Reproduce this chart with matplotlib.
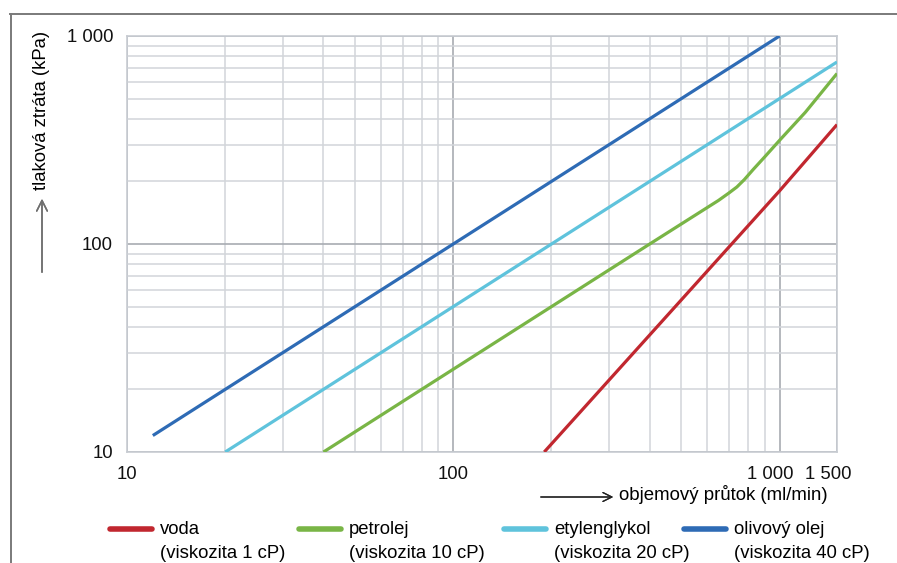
import matplotlib.pyplot as plt
from matplotlib.lines import Line2D
from matplotlib.ticker import FixedLocator, LogLocator, NullFormatter
from matplotlib.transforms import ScaledTranslation

plt.rcParams['font.family'] = ['Liberation Sans', 'DejaVu Sans']

# Data
voda_x = [190, 1000, 1500]
voda_y = [10, 180, 375]
petrolej_x = [40, 100, 400, 650, 700, 740, 780, 830, 900, 1000, 1200, 1500]
petrolej_y = [10, 25, 100, 162, 176, 188, 204, 228, 262, 315, 430, 660]
glykol_x = [20, 1500]
glykol_y = [10, 750]
olej_x = [12, 1000]
olej_y = [12, 1000]

x_ticks = [10, 100, 1000, 1500]
x_labels = ['10', '100', '1 000', '1 500']
y_ticks = [10, 100, 1000]
y_labels = ['10', '100', '1 000']

serie = [
    (voda_x, voda_y, '#c1272f', 'voda\n(viskozita 1 cP)'),
    (petrolej_x, petrolej_y, '#79b546', 'petrolej\n(viskozita 10 cP)'),
    (glykol_x, glykol_y, '#5fc3dc', 'etylenglykol\n(viskozita 20 cP)'),
    (olej_x, olej_y, '#2e6bb5', 'olivový olej\n(viskozita 40 cP)'),
]
leg_x = [110, 299, 504, 684]  # levé okraje položek legendy (px)

fig = plt.figure(figsize=(8.97, 5.63), dpi=100)
ax = fig.add_axes([127 / 897, 1 - 452 / 563, 710 / 897, 416 / 563])

car = []
for xs, ys, col, lab in serie:
    l, = ax.plot(xs, ys, color=col, lw=2.3, label=lab, solid_capstyle='butt',
                 solid_joinstyle='round', zorder=3)
    car.append(l)

ax.set_xscale('log')
ax.set_yscale('log')
ax.set_xlim(10, 1500)
ax.set_ylim(10, 1000)

ax.xaxis.set_major_locator(FixedLocator(x_ticks))
ax.set_xticklabels(x_labels)
ax.yaxis.set_major_locator(FixedLocator(y_ticks))
ax.set_yticklabels(y_labels)
ax.xaxis.set_minor_locator(LogLocator(base=10, subs=range(2, 10)))
ax.yaxis.set_minor_locator(LogLocator(base=10, subs=range(2, 10)))
ax.xaxis.set_minor_formatter(NullFormatter())
ax.yaxis.set_minor_formatter(NullFormatter())

ax.grid(True, which='minor', color='#d2d5da', lw=1.1)
ax.grid(True, which='major', color='#a8acb2', lw=1.2)
ax.tick_params(which='both', length=0, labelsize=13.3, colors='#111111')
ax.tick_params(axis='x', pad=10)
ax.tick_params(axis='y', pad=10)
for s in ax.spines.values():
    s.set_color('#c8ccd2')
    s.set_linewidth(1.2)

# posun popisků 1 000 a 1 500 doleva
posun = ScaledTranslation(-9 / 100, 0, fig.dpi_scale_trans)
for lbl in ax.get_xticklabels()[2:]:
    lbl.set_transform(lbl.get_transform() + posun)

# Popisky os se šipkami
fig.text(42 / 897, 1 - 110 / 563, 'tlaková ztráta (kPa)', rotation=90,
         ha='center', va='center', fontsize=13.3)
fig.add_artist(plt.annotate('', xy=(42 / 897, 1 - 196 / 563), xytext=(42 / 897, 1 - 275 / 563),
                            xycoords='figure fraction',
                            arrowprops=dict(arrowstyle='->', color='#707070', lw=1.1,
                                            mutation_scale=19)))
fig.text(619 / 897, 1 - 494 / 563, 'objemový průtok (ml/min)', ha='left', va='center',
         fontsize=13.4)
fig.add_artist(plt.annotate('', xy=(616 / 897, 1 - 497 / 563), xytext=(538 / 897, 1 - 497 / 563),
                            xycoords='figure fraction',
                            arrowprops=dict(arrowstyle='->', color='#222222', lw=0.9,
                                            mutation_scale=16)))

# Rámeček
fig.add_artist(Line2D([10 / 897, 1], [1 - 14 / 563, 1 - 14 / 563], color='#7a7a7a', lw=1.4))
fig.add_artist(Line2D([11 / 897, 11 / 897], [0, 1 - 14 / 563], color='#7a7a7a', lw=1.4))

# Legenda - každá položka zvlášť
for l, x0 in zip(car, leg_x):
    leg = fig.legend(handles=[l], loc='upper left', bbox_to_anchor=(x0 / 897, 1 - 521 / 563),
                     frameon=False, fontsize=13.3, handlelength=2.3, handletextpad=0.4,
                     borderaxespad=0, borderpad=0)
    for t in leg.get_texts():
        t.set_linespacing(1.5)
    for h in leg.get_lines():
        h.set_linewidth(4)
        h.set_solid_capstyle('round')
        h.set_ydata(h.get_ydata() + 8.5)

fig.savefig('out.png', dpi=100)
